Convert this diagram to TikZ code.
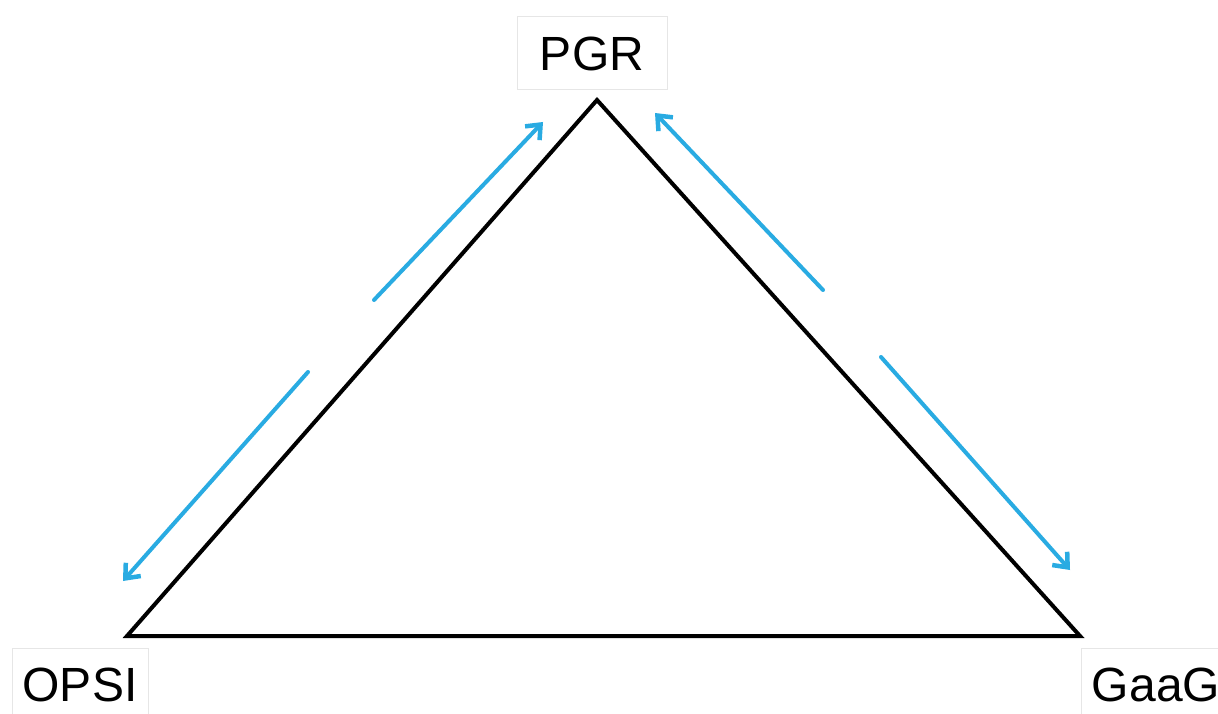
\documentclass[tikz,border=0pt]{standalone}
\usepackage{fontspec}
\setmainfont{Liberation Sans}
\usetikzlibrary{arrows.meta}
\definecolor{arrowblue}{HTML}{29ABE2}
\definecolor{boxgray}{HTML}{E6E6E6}
\begin{document}
\begin{tikzpicture}[x=1pt,y=-1pt,
  lbl/.style={draw=boxgray,line width=1pt,fill=white,font=\fontsize{48}{52}\selectfont,
    minimum height=73pt,inner sep=0pt,anchor=center},
  edge/.style={line width=4pt,line join=miter},
  flow/.style={draw=arrowblue,line width=4pt,line cap=round,-{Straight Barb[length=12pt,width=20pt,line width=4.5pt]}}]
\clip (0,0) rectangle (1218,714);
\fill[white] (0,0) rectangle (1218,714);
\coordinate (A) at (597,100);
\coordinate (L) at (127,636);
\coordinate (R) at (1080,636);
\draw[edge] (A) -- (R) -- (L) -- cycle;
\node[lbl,minimum width=150pt] (pgr) at (592,53.5) {PGR};
\node[lbl,minimum width=136pt] (opsi) at (80,685) {OPSI};
\node[lbl,minimum width=150pt] (gaag) at (1156,685) {GaaG};
\coordinate (a1s) at (374,300); \coordinate (a1e) at (543,122);
\coordinate (a2s) at (308,372); \coordinate (a2e) at (123,581);
\coordinate (a3s) at (823,290); \coordinate (a3e) at (655,113);
\coordinate (a4s) at (881,357); \coordinate (a4e) at (1070,570);
\draw[flow] (a1s) -- (a1e);
\draw[flow] (a2s) -- (a2e);
\draw[flow] (a3s) -- (a3e);
\draw[flow] (a4s) -- (a4e);
\end{tikzpicture}
\end{document}
